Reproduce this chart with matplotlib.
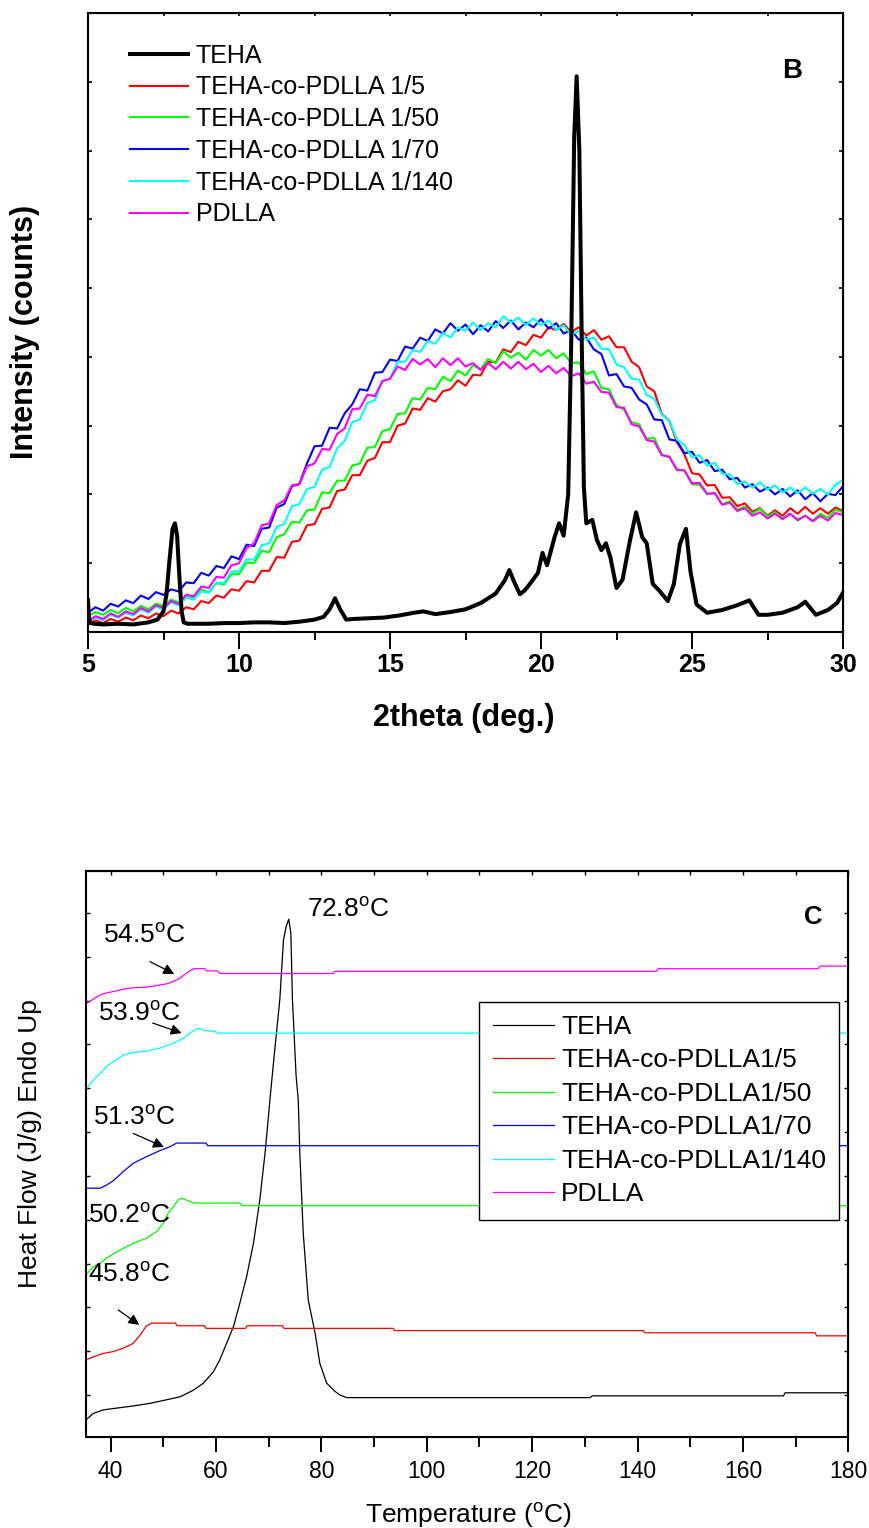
import numpy as np
import matplotlib
matplotlib.use('Agg')
import matplotlib.pyplot as plt
from matplotlib.ticker import MultipleLocator

plt.rcParams['font.family'] = ['Liberation Sans', 'DejaVu Sans']
plt.rcParams['mathtext.fontset'] = 'custom'
plt.rcParams['mathtext.rm'] = 'Liberation Sans'
plt.rcParams['mathtext.it'] = 'Liberation Sans:italic'
plt.rcParams['mathtext.bf'] = 'Liberation Sans:bold'

# ---------------- XRD data (panel B) ----------------
two_theta = np.arange(5.0, 30.0001, 0.25)

xrd_1_5 = [11,17,13,19,15,21,17,24,20,27,
           23,31,27,36,33,45,42,53,50,62,
           60,74,72,89,89,109,108,131,133,155,
           157,179,181,205,207,228,228,249,253,276,
           276,300,303,325,323,340,335,350,353,366,
           358,374,373,393,392,411,407,422,417,432,
           428,443,439,448,436,443,431,439,425,430,
           414,414,393,385,357,350,317,307,276,258,
           231,229,213,214,195,196,183,187,175,180,
           169,177,169,180,172,182,172,180,172,181,176]

xrd_1_50 = [23,29,25,32,27,35,30,38,33,41,
            38,47,43,53,50,62,58,71,69,84,
            84,101,100,118,116,138,142,160,159,177,
            178,203,202,220,220,242,245,268,269,292,
            295,317,318,340,338,355,353,371,365,380,
            373,388,382,397,391,408,399,406,396,410,
            402,410,398,405,391,392,375,379,355,353,
            330,323,305,302,281,282,258,254,235,235,
            215,214,200,202,186,190,178,182,172,179,
            168,174,165,172,162,169,162,172,166,178,174]

xrd_1_70 = [28,36,31,41,37,46,42,53,48,58,
            54,62,59,72,71,86,82,96,93,110,
            106,127,125,150,152,181,186,212,215,245,
            270,271,297,296,318,331,353,351,377,378,
            396,394,415,412,428,423,440,434,449,438,
            447,433,446,437,452,442,453,440,450,443,
            455,441,449,434,439,425,428,411,404,373,
            375,357,355,338,331,309,308,280,278,260,
            262,246,250,234,236,222,224,210,215,204,
            210,200,208,197,206,193,202,190,201,199,212]

xrd_1_140 = [15,21,17,25,21,28,24,33,28,37,
             33,43,39,50,47,59,57,72,71,88,
             88,106,105,126,129,153,157,183,186,208,
             211,236,240,267,278,305,309,333,337,364,
             368,393,393,410,407,423,419,435,428,443,
             438,450,439,449,443,459,450,457,446,456,
             446,453,439,446,432,438,425,428,412,411,
             389,385,368,367,345,339,316,307,280,272,
             254,257,242,246,230,229,215,219,210,218,
             207,213,203,210,202,210,201,208,200,214,221]

xrd_pdlla = [16,23,19,27,22,30,26,35,30,39,
             35,45,41,54,52,66,64,80,79,97,
             100,122,129,155,158,185,191,213,215,241,
             245,266,265,288,296,324,325,345,343,365,
             368,386,381,397,389,397,385,398,388,398,
             386,391,381,391,382,393,383,393,382,390,
             378,387,376,384,372,376,361,364,349,348,
             327,326,302,299,279,277,257,255,236,235,
             216,217,201,202,185,188,176,180,169,174,
             165,172,164,172,163,169,161,169,162,173,170]

teha_x = [5.00, 5.03, 5.08, 5.2, 5.5, 6.0, 6.5, 7.0, 7.3, 7.5, 7.6, 7.7, 7.8, 7.88,
          7.95, 8.02, 8.1, 8.17, 8.3, 8.6, 9.0, 9.5, 10.0, 10.5, 11.0, 11.5, 12.0,
          12.5, 12.8, 13.0, 13.18, 13.35, 13.55, 13.8, 14.3, 14.8, 15.3, 15.8, 16.1,
          16.5, 17.0, 17.5, 18.0, 18.5, 18.8, 18.95, 19.1, 19.3, 19.45, 19.6, 19.9,
          20.05, 20.2, 20.45, 20.6, 20.75, 20.9, 21.0, 21.1, 21.18, 21.27, 21.35,
          21.42, 21.5, 21.7, 21.85, 22.0, 22.15, 22.3, 22.5, 22.7, 22.95, 23.15,
          23.35, 23.5, 23.7, 23.9, 24.2, 24.4, 24.6, 24.8, 24.95, 25.15, 25.5, 26.0,
          26.5, 26.9, 27.2, 27.5, 28.0, 28.5, 28.75, 29.1, 29.5, 29.8, 30.0]
teha_y = [46, 20, 13, 12, 11, 12, 11, 14, 18, 30, 55, 105, 150, 158,
          140, 85, 30, 14, 12, 12, 12, 13, 13, 14, 14, 13, 15,
          18, 22, 33, 49, 33, 18, 19, 20, 21, 24, 28, 30,
          26, 29, 33, 42, 56, 75, 90, 74, 55, 60, 68, 86,
          115, 97, 138, 158, 140, 200, 420, 720, 808, 700, 420,
          210, 158, 163, 134, 119, 129, 108, 64, 76, 134, 174,
          138, 129, 70, 61, 45, 70, 128, 150, 88, 40, 28, 32,
          39, 46, 25, 25, 28, 36, 44, 25, 32, 42, 57]

xrd_labels = ['TEHA', 'TEHA-co-PDLLA 1/5', 'TEHA-co-PDLLA 1/50',
              'TEHA-co-PDLLA 1/70', 'TEHA-co-PDLLA 1/140', 'PDLLA']

# ---------------- DSC data (panel C) ----------------
dsc_pdlla_T = [35.3, 36.5, 38.0, 39.0, 40.5, 42.0, 43.7, 45.5, 46.8, 48.5, 49.4, 50.5,
               51.3, 52.2, 53.1, 54.4, 55.7, 57.9, 58.2, 60.1, 60.9, 82.2, 82.5,
               143.6, 143.9, 174.3, 174.6, 180.0]
dsc_pdlla_H = [9.93, 10.02, 10.13, 10.17, 10.21, 10.25, 10.29, 10.30, 10.31, 10.34, 10.36,
               10.38, 10.41, 10.46, 10.51, 10.63, 10.73, 10.73, 10.68, 10.68, 10.62,
               10.62, 10.67, 10.67, 10.73, 10.73, 10.79, 10.79]

dsc_140_T = [35.3, 36.7, 38.0, 39.2, 40.5, 42.4, 44.3, 46.8, 49.4, 51.9, 53.8, 55.1,
             56.6, 57.9, 59.8, 60.1, 180.0]
dsc_140_H = [7.98, 8.19, 8.34, 8.50, 8.61, 8.76, 8.82, 8.85, 8.92, 9.03, 9.14, 9.27,
             9.37, 9.32, 9.30, 9.26, 9.26]

dsc_70_T = [35.3, 38.0, 39.2, 40.5, 42.4, 44.3, 46.8, 49.4, 51.3, 52.5, 58.1, 58.4, 180.0]
dsc_70_H = [5.72, 5.72, 5.79, 5.89, 6.10, 6.29, 6.44, 6.58, 6.67, 6.75, 6.75, 6.69, 6.69]

dsc_50_T = [35.3, 36.7, 38.0, 39.2, 40.5, 42.4, 44.3, 46.8, 48.7, 50.0, 50.9, 51.9,
            52.8, 53.5, 54.4, 55.7, 64.5, 65.0, 180.0]
dsc_50_H = [3.74, 3.93, 4.01, 4.12, 4.22, 4.35, 4.46, 4.58, 4.73, 4.92, 5.15, 5.30,
            5.45, 5.49, 5.45, 5.38, 5.38, 5.32, 5.32]

dsc_5_T = [35.3, 36.7, 38.6, 40.5, 42.4, 44.3, 45.6, 46.8, 47.8, 52.3, 52.6, 57.8,
           58.1, 65.6, 65.9, 72.6, 72.9, 93.6, 93.9, 141.1, 141.4, 173.7, 174.0, 180.0]
dsc_5_H = [1.80, 1.87, 1.95, 1.99, 2.07, 2.18, 2.37, 2.58, 2.64, 2.64, 2.58, 2.58,
           2.52, 2.52, 2.58, 2.58, 2.52, 2.52, 2.47, 2.47, 2.42, 2.42, 2.35, 2.35]

dsc_teha_T = [35.3, 36.7, 38.6, 41.1, 44.3, 47.5, 50.6, 53.2, 55.7, 57.6, 59.5, 60.7,
              62.0, 63.3, 64.5, 65.8, 67.1, 68.3, 69.3, 70.4, 71.2, 72.1, 72.8, 73.3,
              73.8, 74.2, 74.5, 75.2, 75.6, 75.9, 76.55, 77.5, 78.8, 79.7, 81.0, 82.6,
              83.5, 84.8, 131.0, 131.4, 167.7, 168.0, 180.0]
dsc_teha_H = [0.43, 0.58, 0.66, 0.70, 0.75, 0.81, 0.89, 0.96, 1.11, 1.27, 1.53, 1.80,
              2.18, 2.56, 3.09, 3.70, 4.46, 5.45, 6.52, 7.96, 8.95, 10.02, 11.39, 11.69,
              11.86, 11.54, 10.02, 8.27, 7.74, 6.52, 4.69, 3.17, 2.41, 1.72, 1.27, 1.08,
              1.00, 0.94, 0.94, 0.98, 0.98, 1.05, 1.05]

dsc_labels = ['TEHA', 'TEHA-co-PDLLA1/5', 'TEHA-co-PDLLA1/50',
              'TEHA-co-PDLLA1/70', 'TEHA-co-PDLLA1/140', 'PDLLA']

# Glass-transition annotations
tg_labels = ['54.5', '53.9', '51.3', '50.2', '45.8']
tg_text_T = [38.6, 37.65, 36.7, 35.75, 35.75]
tg_text_H = [11.31, 9.55, 7.16, 4.92, 3.59]
arrows = [((47.47, 10.89), (52.07, 10.61)),
          ((47.97, 9.49), (53.47, 9.26)),
          ((44.29, 6.97), (50.12, 6.66)),
          ((41.44, 2.94), (45.43, 2.60))]

colors = ['black', '#ff0000', '#00ff00', '#0000ff', '#00ffff', '#ff00ff']

fig = plt.figure(figsize=(8.69, 15.28), dpi=100)

# ================= Panel B =================
ax1 = fig.add_axes([88/869, 1 - 632/1528, 755/869, 619/1528])
xrd_series = [xrd_1_5, xrd_1_50, xrd_1_70, xrd_1_140, xrd_pdlla]
handles = {}
for lab, col, ys in zip(xrd_labels[1:], colors[1:], xrd_series):
    h, = ax1.plot(two_theta, ys, color=col, lw=1.5)
    handles[lab] = h
h, = ax1.plot(teha_x, teha_y, color='black', lw=2.9, solid_joinstyle='round')
handles['TEHA'] = h

ax1.set_xlim(5, 30)
ax1.set_ylim(0, 900)
ax1.xaxis.set_major_locator(MultipleLocator(5))
ax1.xaxis.set_minor_locator(MultipleLocator(2.5))
ax1.yaxis.set_major_locator(MultipleLocator(100))
ax1.tick_params(axis='x', which='major', direction='out', length=12, width=1.4,
                labelsize=18, pad=3)
ax1.tick_params(axis='x', which='minor', direction='out', length=6, width=1.4)
ax1.tick_params(axis='y', which='major', direction='in', length=3, width=1.2,
                labelleft=False)
for lbl in ax1.get_xticklabels():
    lbl.set_fontweight('bold')
for sp in ax1.spines.values():
    sp.set_linewidth(1.5)

sx1 = ax1.secondary_xaxis('top')
sx1.set_xticks(np.arange(5, 30.01, 2.5))
sx1.tick_params(direction='in', length=2.5, width=1.2, labeltop=False)
sy1 = ax1.secondary_yaxis('right')
sy1.set_yticks(np.arange(0, 901, 100))
sy1.tick_params(direction='in', length=3, width=1.2, labelright=False)

ax1.set_xlabel('2theta (deg.)', fontsize=22, fontweight='bold')
ax1.xaxis.set_label_coords(0.498, -0.1145)
ax1.set_ylabel('Intensity (counts)', fontsize=22, fontweight='bold')
ax1.yaxis.set_label_coords(-0.063, 0.4847)

leg1 = ax1.legend([handles[l] for l in xrd_labels], xrd_labels, loc='upper left',
                  bbox_to_anchor=(0.0556, 0.9507), borderaxespad=0, borderpad=0,
                  frameon=False, fontsize=18, handlelength=2.32, handletextpad=0.32,
                  labelspacing=0.31)
ax1.text(28.32, 815, 'B', fontsize=20, fontweight='bold', ha='center', va='center')

# ================= Panel C =================
ax2 = fig.add_axes([85.7/869, 1 - 1437/1528, 762.6/869, 566/1528])
dsc_T = [dsc_teha_T, dsc_5_T, dsc_50_T, dsc_70_T, dsc_140_T, dsc_pdlla_T]
dsc_H = [dsc_teha_H, dsc_5_H, dsc_50_H, dsc_70_H, dsc_140_H, dsc_pdlla_H]
dsc_handles = []
for T, H, col in zip(dsc_T, dsc_H, colors):
    h, = ax2.plot(T, H, color=col, lw=0.9)
    dsc_handles.append(h)

ax2.set_xlim(35.26, 180)
ax2.set_ylim(0.041, 12.96)
ax2.xaxis.set_major_locator(MultipleLocator(20))
ax2.xaxis.set_minor_locator(MultipleLocator(10))
ax2.yaxis.set_major_locator(MultipleLocator(1))
ax2.tick_params(axis='x', which='major', direction='out', length=11, width=1.4,
                labelsize=16.5, pad=5.5)
ax2.tick_params(axis='x', which='minor', direction='out', length=7, width=1.4)
ax2.tick_params(axis='y', which='major', direction='in', length=3, width=1.0,
                labelleft=False)
for sp in ax2.spines.values():
    sp.set_linewidth(1.5)

sx2 = ax2.secondary_xaxis('top')
sx2.set_xticks(np.arange(40, 180.1, 10))
sx2.tick_params(direction='in', length=3, width=1.0, labeltop=False)
sy2 = ax2.secondary_yaxis('right')
sy2.set_yticks(np.arange(1, 12.1, 1))
sy2.tick_params(direction='in', length=3, width=1.0, labelright=False)

ax2.set_xlabel(r'Temperature ($^{\mathrm{o}}$C)', fontsize=19)
ax2.xaxis.set_label_coords(0.5015, -0.113)
ax2.set_ylabel('Heat Flow (J/g) Endo Up', fontsize=19)
ax2.yaxis.set_label_coords(-0.057, 0.519)

leg2 = ax2.legend(dsc_handles, dsc_labels, loc='upper left',
                  bbox_to_anchor=(0.5163, 0.769), borderaxespad=0, borderpad=0.5,
                  fontsize=19, handlelength=2.31, handletextpad=0.28,
                  labelspacing=0.36, fancybox=False, framealpha=1,
                  edgecolor='black')
leg2.get_frame().set_linewidth(1.0)

ax2.text(77.2, 11.91, r'72.8$^{\mathrm{o}}$C', fontsize=19, ha='left', va='baseline')
for lab, tT, tH in zip(tg_labels, tg_text_T, tg_text_H):
    ax2.text(tT, tH, lab + r'$^{\mathrm{o}}$C', fontsize=19, ha='left', va='baseline')
for (s, e) in arrows:
    ax2.annotate('', xy=e, xytext=s,
                 arrowprops=dict(arrowstyle='-|>', color='black', lw=0.9,
                                 mutation_scale=16, shrinkA=0, shrinkB=0))
ax2.text(173.3, 11.91, 'C', fontsize=18.5, fontweight='bold', ha='center', va='center')

fig.savefig('out.png', dpi=100)
